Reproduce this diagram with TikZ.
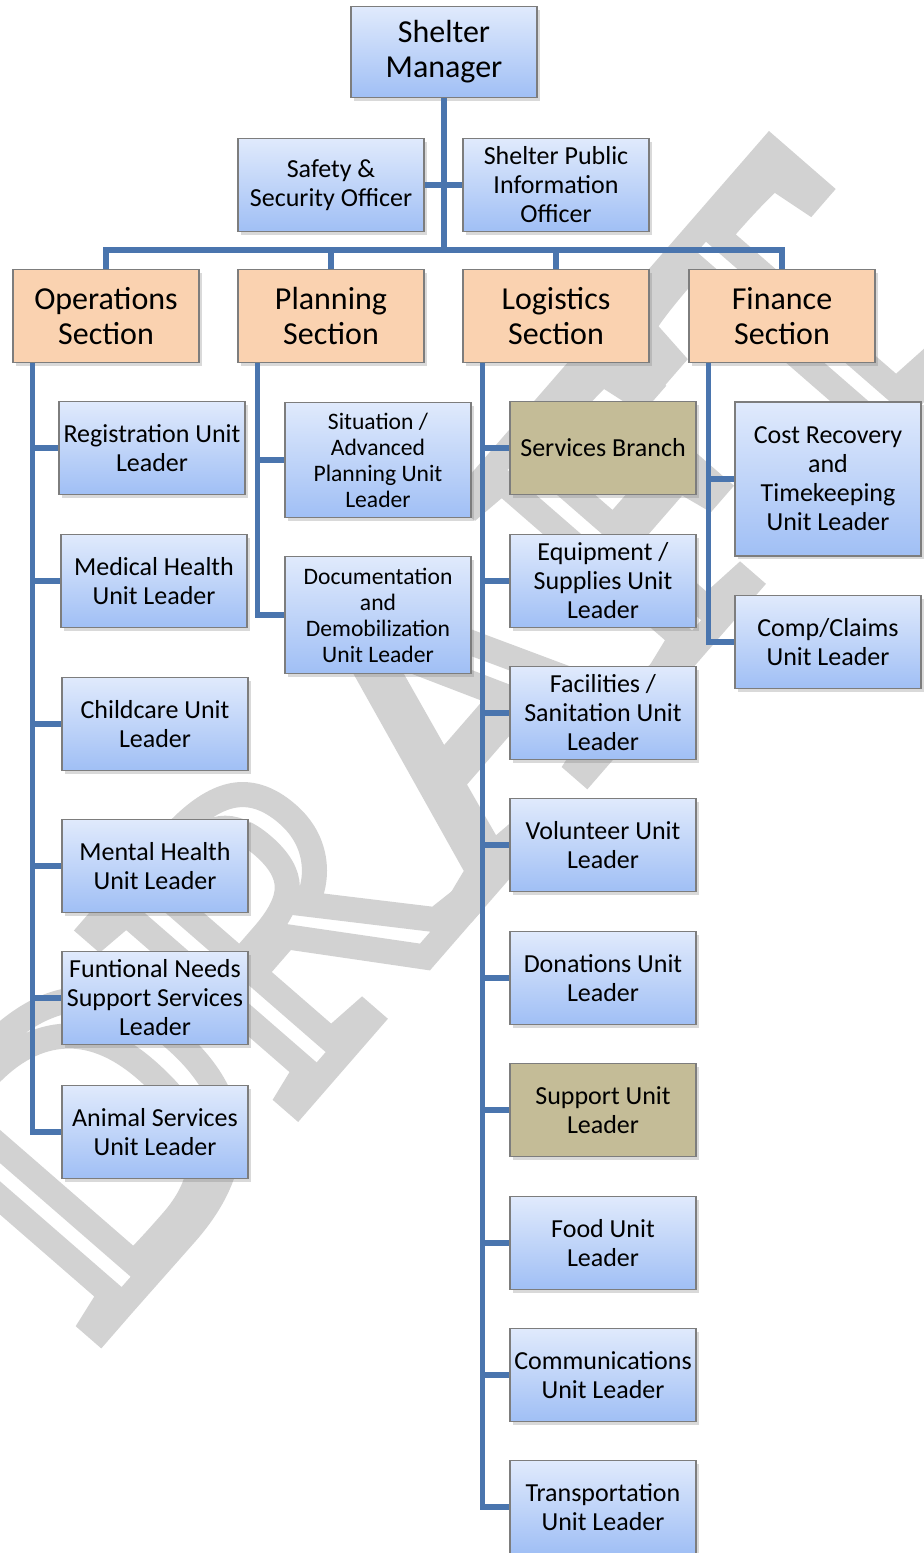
\documentclass[tikz,border=0pt]{standalone}
\usepackage{fontspec}
\setmainfont{Carlito}
\newfontfamily\draftfont{Liberation Serif}
\usetikzlibrary{shadows}

\definecolor{linkblue}{RGB}{74,117,174}
\definecolor{bluetop}{RGB}{224,234,252}
\definecolor{bluebot}{RGB}{160,191,245}
\definecolor{secorange}{RGB}{250,210,176}
\definecolor{branchkhaki}{RGB}{196,188,151}
\definecolor{boxedge}{RGB}{125,125,125}
\definecolor{draftgray}{RGB}{210,210,210}

\newcommand\hollow[1]{\special{pdf:literal direct 1 Tr 12.5 w}#1\special{pdf:literal direct 0 Tr}}

\begin{document}
\begin{tikzpicture}[x=.5pt,y=-.5pt,
	orgbox/.style={draw=boxedge,line width=.6pt,align=center,inner sep=1pt,minimum width=93pt,minimum height=46.5pt,
		drop shadow={shadow xshift=1.5pt,shadow yshift=-1.5pt,opacity=.3}},
	unitbox/.style={orgbox,top color=bluetop,bottom color=bluebot,font=\fontsize{13}{14.5}\selectfont},
	smallbox/.style={unitbox,font=\fontsize{11.8}{13}\selectfont},
	branchbox/.style={orgbox,fill=branchkhaki,font=\fontsize{13}{14.5}\selectfont},
	sectionbox/.style={orgbox,fill=secorange,font=\fontsize{16}{17.5}\selectfont},
	link/.style={draw=linkblue,line width=2.6pt},
	draft/.style={text=draftgray,inner sep=0pt,font=\draftfont\fontsize{206}{206}\selectfont}]
	\useasboundingbox (0,0) rectangle (924,1553);
	
	\node[draft,anchor=base west,rotate=49] (wm) at (92,1340) {\hollow{DRAFT}};
	
	\node[unitbox,font=\fontsize{16}{17.5}\selectfont,minimum height=45.5pt] (mgr) at (444,52) {Shelter\\Manager};
	\node[unitbox] (safety) at (331,185) {Safety \&\\Security Officer};
	\node[unitbox] (pio) at (556,185) {Shelter Public\\Information\\Officer};
	\coordinate (bar) at (444,250);
	
	\node[sectionbox] (ops) at (106,316) {Operations\\Section};
	\node[sectionbox] (plan) at (331,316) {Planning\\Section};
	\node[sectionbox] (logi) at (556,316) {Logistics\\Section};
	\node[sectionbox] (fin) at (782,316) {Finance\\Section};
	
	\node[unitbox] (reg) at (152,448) {Registration Unit\\Leader};
	\node[unitbox] (med) at (154,581) {Medical Health\\Unit Leader};
	\node[unitbox] (child) at (155,724) {Childcare Unit\\Leader};
	\node[unitbox] (mental) at (155,866) {Mental Health\\Unit Leader};
	\node[unitbox] (func) at (155,998) {Funtional Needs\\Support Services\\Leader};
	\node[unitbox] (animal) at (155,1132) {Animal Services\\Unit Leader};
	
	\node[smallbox,minimum height=57.5pt] (situ) at (378,460) {Situation /\\Advanced\\Planning Unit\\Leader};
	\node[smallbox,minimum height=58.5pt] (docu) at (378,615) {Documentation\\and\\Demobilization\\Unit Leader};
	
	\node[branchbox] (serv) at (603,448) {Services Branch};
	\node[unitbox] (equip) at (603,581) {Equipment /\\Supplies Unit\\Leader};
	\node[unitbox] (facil) at (603,713) {Facilities /\\Sanitation Unit\\Leader};
	\node[unitbox] (volun) at (603,845) {Volunteer Unit\\Leader};
	\node[unitbox] (donat) at (603,978) {Donations Unit\\Leader};
	\node[branchbox] (supp) at (603,1110) {Support Unit\\Leader};
	\node[unitbox] (food) at (603,1243) {Food Unit\\Leader};
	\node[unitbox] (comm) at (603,1375) {Communications\\Unit Leader};
	\node[unitbox] (trans) at (603,1507) {Transportation\\Unit Leader};
	
	\node[unitbox,minimum height=77pt] (cost) at (828,479) {Cost Recovery\\and\\Timekeeping\\Unit Leader};
	\node[unitbox] (comp) at (828,642) {Comp/Claims\\Unit Leader};
	
	\draw[link] (mgr.south) -- (bar);
	\draw[link] (safety.east) -- (pio.west);
	\foreach \s in {ops,plan,logi,fin}
		\draw[link] (bar) -| (\s.north);
	
	\foreach \c in {reg,med,child,mental,func,animal}
		\draw[link] ([xshift=10pt]ops.south west) |- (\c.west);
	\foreach \c in {situ,docu}
		\draw[link] ([xshift=10pt]plan.south west) |- (\c.west);
	\foreach \c in {serv,equip,facil,volun,donat,supp,food,comm,trans}
		\draw[link] ([xshift=10pt]logi.south west) |- (\c.west);
	\foreach \c in {cost,comp}
		\draw[link] ([xshift=10pt]fin.south west) |- (\c.west);
\end{tikzpicture}
\end{document}
